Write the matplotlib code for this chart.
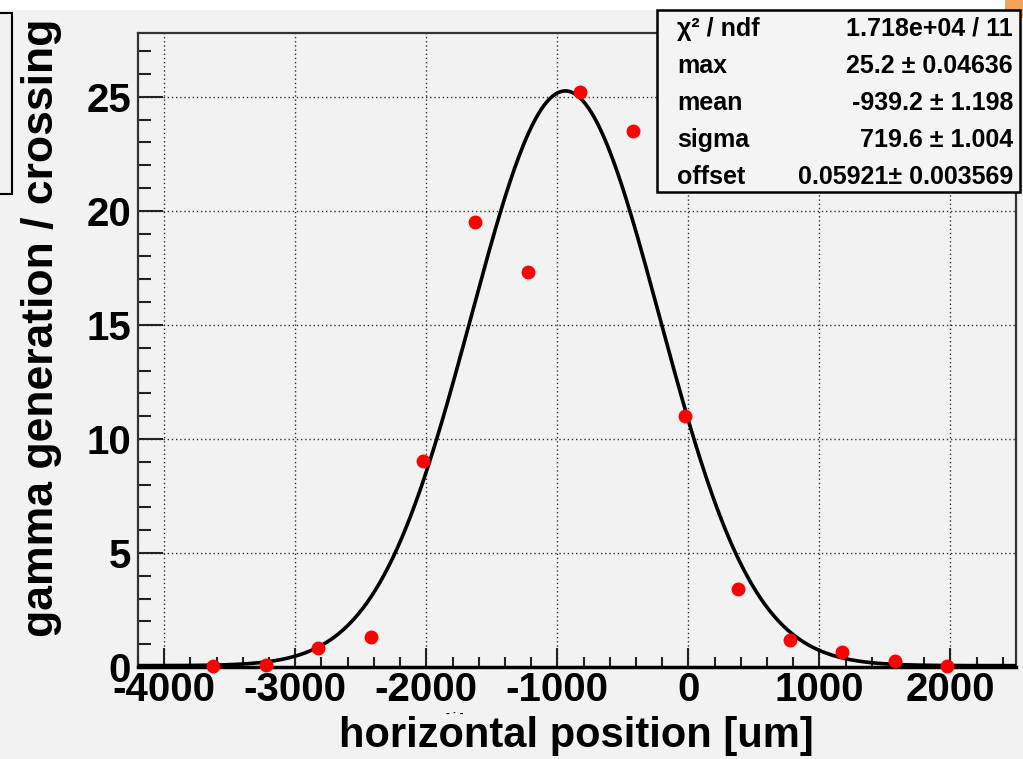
import numpy as np
import matplotlib.pyplot as plt
from matplotlib.patches import Rectangle
from matplotlib.ticker import MultipleLocator

# measured points
pos_um = [-3625, -3225, -2825, -2425, -2025, -1625, -1225, -825,
          -425, -25, 375, 775, 1175, 1575, 1975]
gamma = [0.05, 0.1, 0.85, 1.3, 9.05, 19.5, 17.3, 25.2,
         23.5, 11.0, 3.4, 1.2, 0.65, 0.25, 0.05]

# fit result (gaus + offset)
fit_max = 25.2
fit_mean = -939.2
fit_sigma = 719.6
fit_offset = 0.05921

stat_names = ["χ² / ndf", "max", "mean", "sigma", "offset"]
stat_values = ["1.718e+04 / 11", "25.2 ± 0.04636", "-939.2 ± 1.198",
               "719.6 ± 1.004", "0.05921± 0.003569"]

bg = "#f2f2f2"
plt.rcParams["font.family"] = ["Liberation Sans", "DejaVu Sans"]
plt.rcParams["font.weight"] = "bold"
plt.rcParams["axes.unicode_minus"] = False

fig = plt.figure(figsize=(10.23, 7.59), dpi=100, facecolor=bg)
W, H = 1023, 759
ax = fig.add_axes([138 / W, 1 - 667 / H, (1016 - 138) / W, (667 - 33) / H])
ax.set_facecolor(bg)

xf = np.linspace(-4200, 2500, 600)
yf = fit_max * np.exp(-0.5 * ((xf - fit_mean) / fit_sigma) ** 2) + fit_offset
ax.plot(xf, yf, color="black", lw=2.6, zorder=3)
ax.plot(pos_um, gamma, "o", color="red", ms=9, mec="red", zorder=4,
        clip_on=False)

ax.set_xlim(-4200, 2500)
ax.set_ylim(0, 27.8)
ax.xaxis.set_major_locator(MultipleLocator(1000))
ax.xaxis.set_minor_locator(MultipleLocator(200))
ax.yaxis.set_major_locator(MultipleLocator(5))
ax.yaxis.set_minor_locator(MultipleLocator(1))
ax.grid(True, which="major", ls=(0, (1, 2)), color="#333333", lw=1.0)

ax.tick_params(axis="both", which="both", direction="in", top=False,
               right=False, labelsize=29, width=1.5, color="#222222")
ax.tick_params(axis="x", which="major", length=14, pad=3)
ax.tick_params(axis="x", which="minor", length=7)
ax.tick_params(axis="y", which="major", length=18, pad=5)
ax.tick_params(axis="y", which="minor", length=9)
for lab in ax.get_xticklabels() + ax.get_yticklabels():
    lab.set_fontweight("bold")
for s in ax.spines.values():
    s.set_linewidth(1.6)
    s.set_color("#333333")
ax.spines["bottom"].set_linewidth(2.5)
ax.spines["bottom"].set_color("black")

fig.text(576 / W, 1 - 736 / H, "horizontal position [um]", ha="center",
         va="center", fontsize=30, fontweight="bold")
fig.text(42 / W, 1 - 328 / H, "gamma generation / crossing", ha="center",
         va="center", rotation=90, fontsize=32, fontweight="bold")
fig.text(455 / W, 1 - 713 / H, "- · -", ha="center", va="center",
         fontsize=8, fontweight="bold")

# top strip, corner boxes
fig.patches.append(Rectangle((0, 1 - 10 / H), 1, 10 / H,
                             transform=fig.transFigure, facecolor="white",
                             edgecolor="none", zorder=0))
fig.patches.append(Rectangle((1005 / W, 1 - 18 / H), 18 / W, 18 / H,
                             transform=fig.transFigure, facecolor="#f4a35a",
                             edgecolor="none", zorder=1))
fig.patches.append(Rectangle((-10 / W, 1 - 194 / H), 22 / W, 181 / H,
                             transform=fig.transFigure, facecolor="#f0f0f0",
                             edgecolor="black", lw=1.5, zorder=1))

# stats box
fig.patches.append(Rectangle((657 / W, 1 - 192 / H), (1020 - 657) / W,
                             (192 - 10) / H, transform=fig.transFigure,
                             facecolor="#f4f4f4", edgecolor="black", lw=1.8,
                             zorder=5))
for i, (nm, val) in enumerate(zip(stat_names, stat_values)):
    yy = 1 - (29 + 37 * i) / H
    fig.text(677 / W, yy, nm, ha="left", va="center", fontsize=18,
             fontweight="bold", zorder=6)
    fig.text(1013 / W, yy, val, ha="right", va="center", fontsize=18,
             fontweight="bold", zorder=6)

fig.savefig("out.png", dpi=100, facecolor=bg)
